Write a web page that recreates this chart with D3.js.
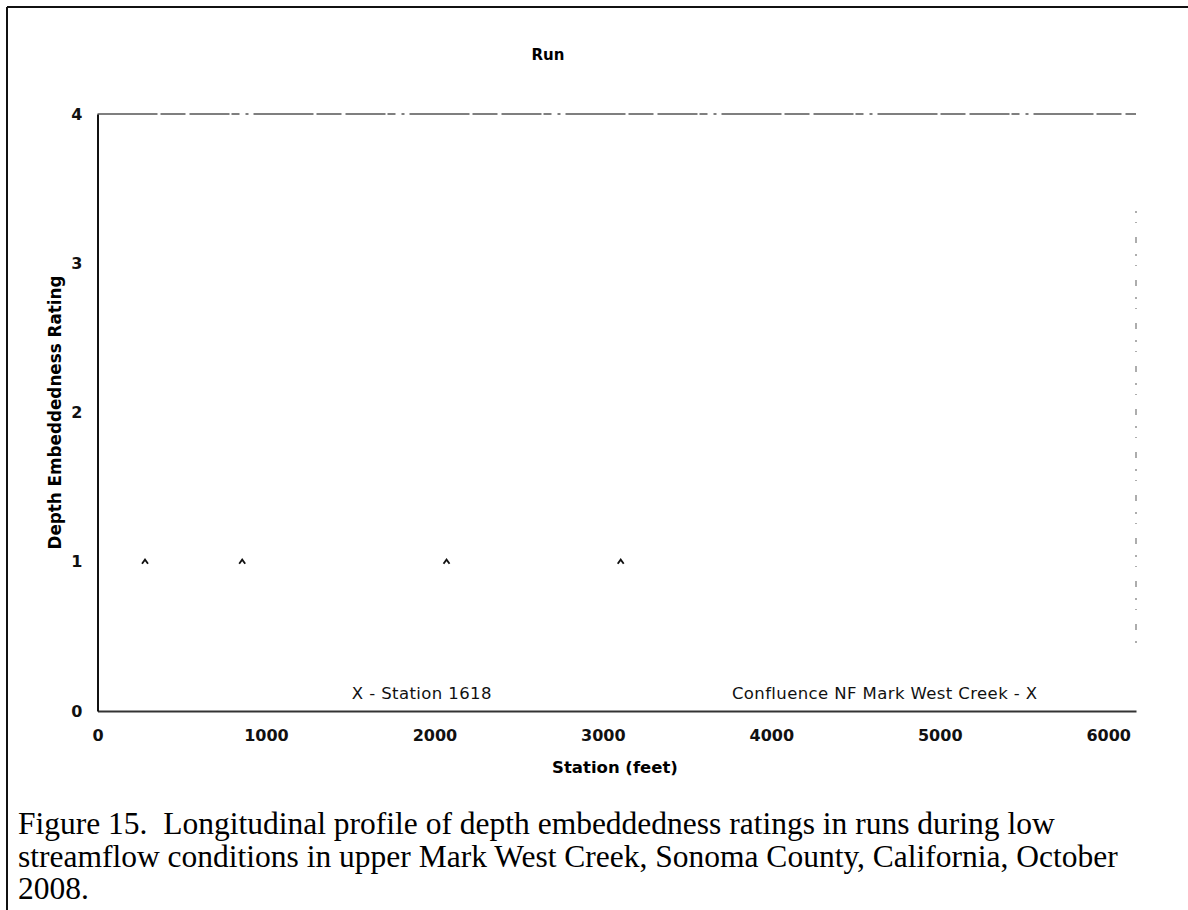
<!DOCTYPE html>
<html>
<head>
<meta charset="utf-8">
<script src="https://cdn.jsdelivr.net/npm/d3@7"></script>
<style>
  html, body { margin: 0; padding: 0; background: #fff; }
  svg { display: block; }
</style>
</head>
<body>
<svg id="fig" width="1188" height="910"></svg>
<script>
// Run survey: depth embeddedness ratings by station
const stations = [282, 859, 2072, 3106];
const ratings = [1, 1, 1, 1];

const xTicks = [0, 1000, 2000, 3000, 4000, 5000, 6000];
const yTicks = [0, 1, 2, 3, 4];
const xMax = 6165;
const yMax = 4;

const annotationText = ["X - Station 1618", "Confluence NF Mark West Creek - X"];
const annotationStation = [1510, 5580];
const annotationAnchor = ["start", "end"];

const chartTitle = "Run";
const xTitle = "Station (feet)";
const yTitle = "Depth Embeddedness Rating";
const captionLines = [
  "Figure 15.  Longitudinal profile of depth embeddedness ratings in runs during low",
  "streamflow conditions in upper Mark West Creek, Sonoma County, California, October",
  "2008."
];

const svg = d3.select("#fig");
const W = 1188, H = 910;
const plot = { left: 97.5, right: 1136, top: 114, bottom: 711 };

const x = d3.scaleLinear().domain([0, xMax]).range([plot.left, plot.right]);
const y = d3.scaleLinear().domain([0, yMax]).range([plot.bottom, plot.top]);

const sans = "'DejaVu Sans', Verdana, sans-serif";
const serif = "'Liberation Serif', 'Times New Roman', serif";

// figure frame (top and left edges)
svg.append("line").attr("x1", 7).attr("x2", W).attr("y1", 7).attr("y2", 7)
  .attr("stroke", "#111").attr("stroke-width", 2);
svg.append("line").attr("x1", 7).attr("x2", 7).attr("y1", 7).attr("y2", H)
  .attr("stroke", "#111").attr("stroke-width", 2);

// plot area border: top and right edges are faint
svg.append("line")
  .attr("x1", plot.left).attr("x2", plot.right)
  .attr("y1", y(yMax)).attr("y2", y(yMax))
  .attr("stroke", "#555").attr("stroke-width", 1.3)
  .attr("stroke-dasharray", "60,3,25,4,40,2,8,6,3,5");
svg.append("line")
  .attr("x1", plot.right).attr("x2", plot.right)
  .attr("y1", y(3.35)).attr("y2", y(0.4))
  .attr("stroke", "#777").attr("stroke-width", 1.2)
  .attr("stroke-dasharray", "2,9,1,14,6,11");

// axes
const xAxis = d3.axisBottom(x).tickValues(xTicks).tickFormat(d3.format("d"))
  .tickSize(0).tickPadding(19);
const yAxis = d3.axisLeft(y).tickValues(yTicks).tickFormat(d3.format("d"))
  .tickSize(0).tickPadding(15);

const gx = svg.append("g").attr("transform", `translate(0,${plot.bottom})`).call(xAxis);
const gy = svg.append("g").attr("transform", `translate(${plot.left},0)`).call(yAxis);

gx.select(".domain").attr("stroke", "#333").attr("stroke-width", 2);
gy.select(".domain").attr("stroke", "#111").attr("stroke-width", 2);
[gx, gy].forEach(g => g.selectAll("text")
  .attr("font-family", sans).attr("font-size", 16).attr("font-weight", "bold")
  .attr("fill", "#111"));

// titles
svg.append("text").attr("x", 548).attr("y", 60)
  .attr("text-anchor", "middle").attr("font-family", sans)
  .attr("font-size", 15).attr("font-weight", "bold").text(chartTitle);

svg.append("text").attr("x", 615).attr("y", 773)
  .attr("text-anchor", "middle").attr("font-family", sans)
  .attr("font-size", 16.5).attr("font-weight", "bold").text(xTitle);

svg.append("text")
  .attr("transform", `translate(61,${(plot.top + plot.bottom) / 2}) rotate(-90)`)
  .attr("text-anchor", "middle").attr("font-family", sans)
  .attr("font-size", 16.8).attr("font-weight", "bold").text(yTitle);

// station annotations along the bottom of the plot
svg.append("g").selectAll("text")
  .data(annotationText)
  .join("text")
  .attr("x", (d, i) => x(annotationStation[i]))
  .attr("y", 699)
  .attr("text-anchor", (d, i) => annotationAnchor[i])
  .attr("font-family", sans).attr("font-size", 16.5)
  .attr("letter-spacing", 0.4).attr("fill", "#111")
  .text(d => d);

// data markers (small open carets)
const caret = {
  draw(ctx, size) {
    const r = Math.sqrt(size) / 2;
    ctx.moveTo(-r, r * 0.7);
    ctx.lineTo(0, -r * 0.7);
    ctx.lineTo(r, r * 0.7);
  }
};
svg.append("g").selectAll("path")
  .data(stations)
  .join("path")
  .attr("transform", (d, i) => `translate(${x(d)},${y(ratings[i])})`)
  .attr("d", d3.symbol().type(caret).size(36))
  .attr("fill", "none").attr("stroke", "#111").attr("stroke-width", 1.8);

// caption: one paragraph, three lines
const caption = svg.append("text")
  .attr("x", 18).attr("y", 834)
  .attr("font-family", serif).attr("font-size", 31.5).attr("fill", "#000")
  .attr("xml:space", "preserve")
  .style("white-space", "pre");
caption.selectAll("tspan")
  .data(captionLines)
  .join("tspan")
  .attr("x", 18)
  .attr("dy", (d, i) => i === 0 ? 0 : 32.5)
  .text(d => d);
</script>
</body>
</html>
